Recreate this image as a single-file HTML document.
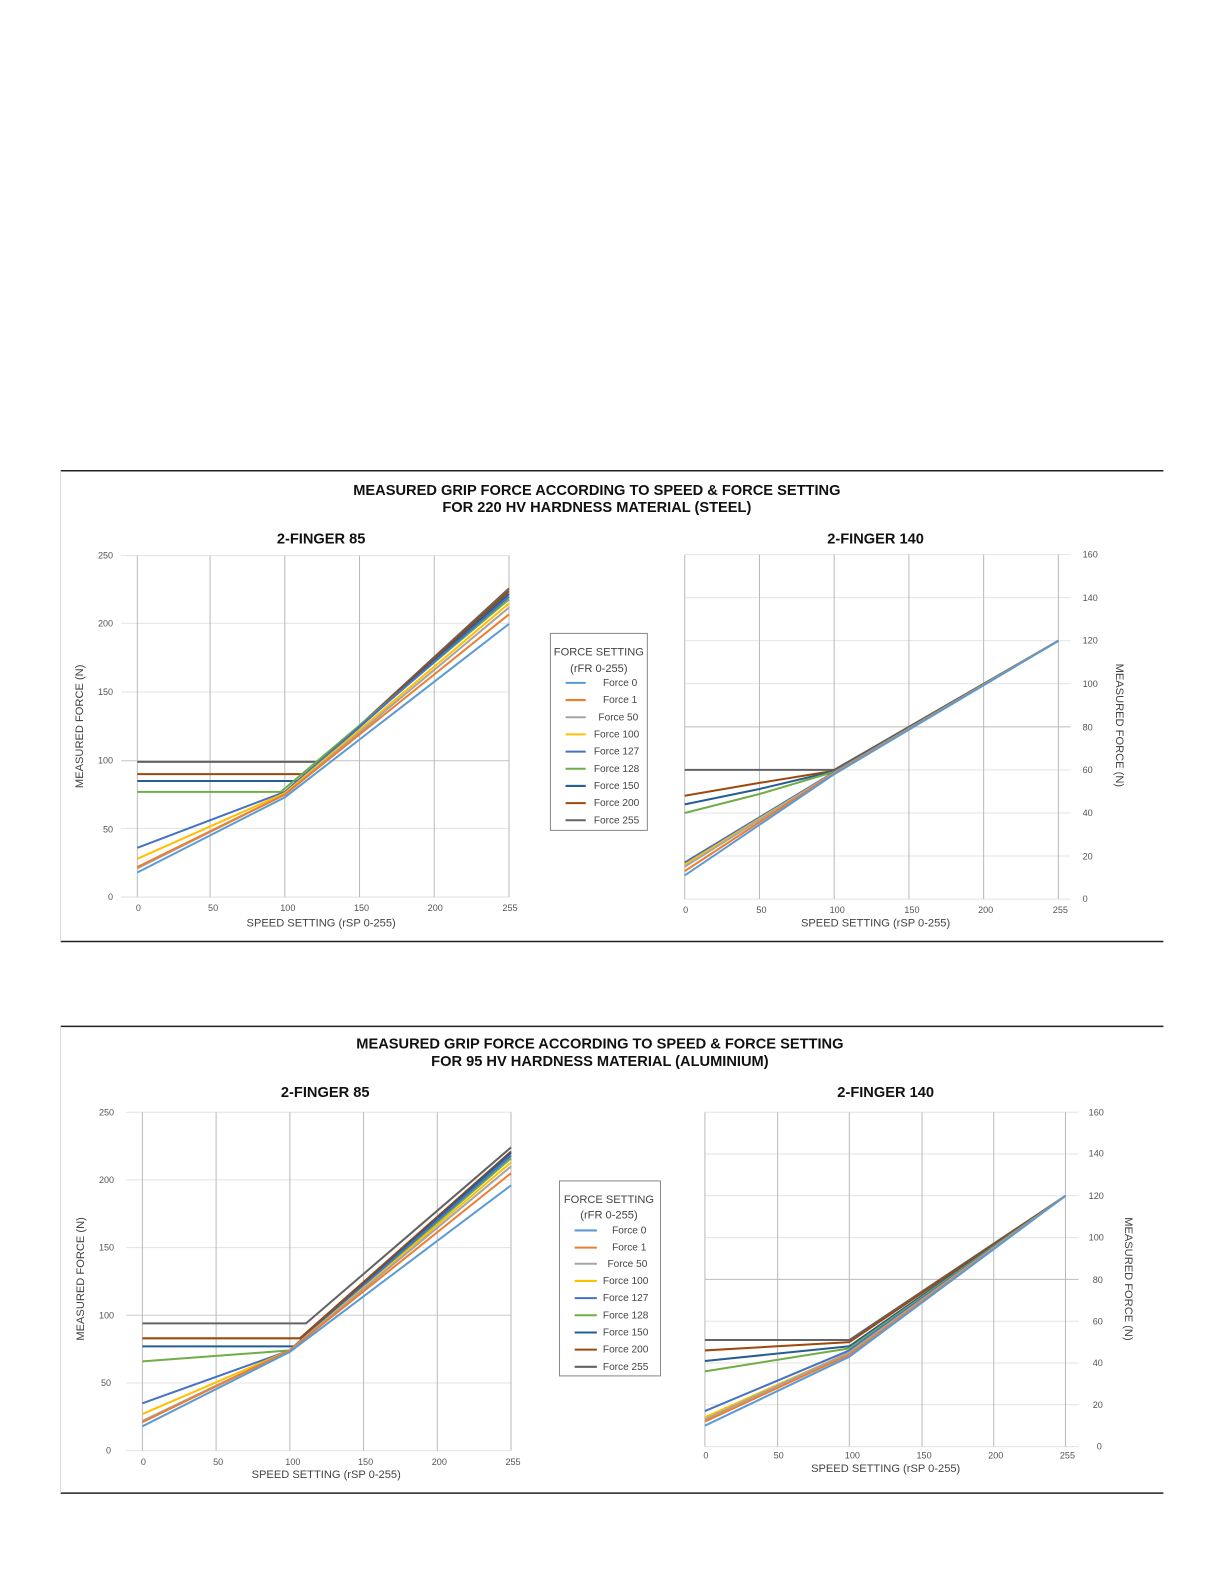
<!DOCTYPE html>
<html><head><meta charset="utf-8"><style>
html,body{margin:0;padding:0;background:#fff}
svg{display:block}
text{font-family:"Liberation Sans",sans-serif;fill:#333}
.t{font-weight:bold;font-size:14.5px;fill:#111}
.tk{font-size:9px;fill:#555}
.ax{font-size:11px;fill:#444}
.lg{font-size:10px;fill:#444}
.v{stroke:#b9b9b9;stroke-width:1}
.h{stroke:#e3e3e3;stroke-width:1}
polyline{fill:none;stroke-width:2}
</style></head><body>
<svg width="1224" height="1584" viewBox="0 0 1212 1568" preserveAspectRatio="none" xmlns="http://www.w3.org/2000/svg">
<!-- frames -->
<line x1="60" y1="466" x2="1152" y2="466" stroke="#222" stroke-width="1.5"/>
<line x1="60" y1="932" x2="1152" y2="932" stroke="#222" stroke-width="1.5"/>
<line x1="60" y1="466" x2="60" y2="932" stroke="#ddd"/>
<line x1="60" y1="1016" x2="1152" y2="1016" stroke="#222" stroke-width="1.5"/>
<line x1="60" y1="1478" x2="1152" y2="1478" stroke="#222" stroke-width="1.5"/>
<line x1="60" y1="1016" x2="60" y2="1478" stroke="#ddd"/>

<!-- ===== TOP ===== -->
<text class="t" x="591" y="490" text-anchor="middle">MEASURED GRIP FORCE ACCORDING TO SPEED &amp; FORCE SETTING</text>
<text class="t" x="591" y="507" text-anchor="middle">FOR 220 HV HARDNESS MATERIAL (STEEL)</text>
<text class="t" x="318" y="538" text-anchor="middle">2-FINGER 85</text>
<text class="t" x="867" y="538" text-anchor="middle">2-FINGER 140</text>

<!-- Chart A -->
<g>
<line class="h" x1="120" y1="888" x2="504" y2="888"/><line class="h" x1="120" y1="820" x2="504" y2="820"/>
<line class="h" x1="120" y1="753" x2="504" y2="753" style="stroke:#ccc"/><line class="h" x1="120" y1="685" x2="504" y2="685"/>
<line class="h" x1="120" y1="617" x2="504" y2="617"/><line class="h" x1="120" y1="550" x2="504" y2="550"/>
<line class="v" x1="136" y1="550" x2="136" y2="888"/><line class="v" x1="208" y1="550" x2="208" y2="888"/>
<line class="v" x1="282" y1="550" x2="282" y2="888"/><line class="v" x1="356" y1="550" x2="356" y2="888"/>
<line class="v" x1="430" y1="550" x2="430" y2="888"/><line class="v" x1="504" y1="550" x2="504" y2="888"/>
<text class="tk" x="112" y="891" text-anchor="end">0</text><text class="tk" x="112" y="824" text-anchor="end">50</text>
<text class="tk" x="112" y="756" text-anchor="end">100</text><text class="tk" x="112" y="688" text-anchor="end">150</text>
<text class="tk" x="112" y="620" text-anchor="end">200</text><text class="tk" x="112" y="553" text-anchor="end">250</text>
<text class="tk" x="137" y="902" text-anchor="middle">0</text><text class="tk" x="211" y="902" text-anchor="middle">50</text>
<text class="tk" x="285" y="902" text-anchor="middle">100</text><text class="tk" x="358" y="902" text-anchor="middle">150</text>
<text class="tk" x="431" y="902" text-anchor="middle">200</text><text class="tk" x="505" y="902" text-anchor="middle">255</text>
<text class="ax" x="318" y="917" text-anchor="middle">SPEED SETTING (rSP 0-255)</text>
<text class="ax" transform="translate(82,719) rotate(-90)" text-anchor="middle">MEASURED FORCE (N)</text>
<polyline stroke="#636363" points="136,754.2 317,754.2 504,582.4"/>
<polyline stroke="#9e480e" points="136,766.3 303,766.3 504,585.2"/>
<polyline stroke="#255e91" points="136,773.1 296,773.1 504,587.9"/>
<polyline stroke="#70ad47" points="136,783.9 278,783.9 504,593.3"/>
<polyline stroke="#4472c4" points="136,839.3 282,783.9 504,590.6"/>
<polyline stroke="#ffc000" points="136,850.1 282,785.2 504,597.3"/>
<polyline stroke="#a5a5a5" points="136,859.6 282,786.6 504,601.4"/>
<polyline stroke="#ed7d31" points="136,858.3 282,786.6 504,608.1"/>
<polyline stroke="#5b9bd5" points="136,863.7 282,789.3 504,617.6"/>
</g>

<!-- Legend top -->
<g>
<rect x="545" y="627" width="96" height="195" fill="#fff" stroke="#888"/>
<text class="ax" x="593" y="649" text-anchor="middle">FORCE SETTING</text>
<text class="ax" x="593" y="665" text-anchor="middle">(rFR 0-255)</text>
<line x1="560" y1="676" x2="580" y2="676" stroke="#5b9bd5" stroke-width="2"/><text class="lg" x="631" y="679" text-anchor="end">Force 0</text>
<line x1="560" y1="693" x2="580" y2="693" stroke="#ed7d31" stroke-width="2"/><text class="lg" x="631" y="696" text-anchor="end">Force 1</text>
<line x1="560" y1="710" x2="580" y2="710" stroke="#a5a5a5" stroke-width="2"/><text class="lg" x="632" y="713" text-anchor="end">Force 50</text>
<line x1="560" y1="727" x2="580" y2="727" stroke="#ffc000" stroke-width="2"/><text class="lg" x="633" y="730" text-anchor="end">Force 100</text>
<line x1="560" y1="744" x2="580" y2="744" stroke="#4472c4" stroke-width="2"/><text class="lg" x="633" y="747" text-anchor="end">Force 127</text>
<line x1="560" y1="761" x2="580" y2="761" stroke="#70ad47" stroke-width="2"/><text class="lg" x="633" y="764" text-anchor="end">Force 128</text>
<line x1="560" y1="778" x2="580" y2="778" stroke="#255e91" stroke-width="2"/><text class="lg" x="633" y="781" text-anchor="end">Force 150</text>
<line x1="560" y1="795" x2="580" y2="795" stroke="#9e480e" stroke-width="2"/><text class="lg" x="633" y="798" text-anchor="end">Force 200</text>
<line x1="560" y1="812" x2="580" y2="812" stroke="#636363" stroke-width="2"/><text class="lg" x="633" y="815" text-anchor="end">Force 255</text>
</g>

<!-- Chart B -->
<g>
<line class="h" x1="678" y1="890" x2="1060" y2="890"/><line class="h" x1="678" y1="847.4" x2="1060" y2="847.4"/>
<line class="h" x1="678" y1="804.8" x2="1060" y2="804.8"/><line class="h" x1="678" y1="762.1" x2="1060" y2="762.1"/>
<line class="h" x1="678" y1="719.5" x2="1060" y2="719.5" style="stroke:#bbb"/><line class="h" x1="678" y1="676.9" x2="1060" y2="676.9"/>
<line class="h" x1="678" y1="634.3" x2="1060" y2="634.3"/><line class="h" x1="678" y1="591.6" x2="1060" y2="591.6"/>
<line class="h" x1="678" y1="549" x2="1060" y2="549"/>
<line class="v" x1="678" y1="549" x2="678" y2="890"/><line class="v" x1="752" y1="549" x2="752" y2="890"/>
<line class="v" x1="826" y1="549" x2="826" y2="890"/><line class="v" x1="900" y1="549" x2="900" y2="890"/>
<line class="v" x1="974" y1="549" x2="974" y2="890"/><line class="v" x1="1048" y1="549" x2="1048" y2="890"/>
<text class="tk" x="1072" y="893">0</text><text class="tk" x="1072" y="851">20</text>
<text class="tk" x="1072" y="808">40</text><text class="tk" x="1072" y="765">60</text>
<text class="tk" x="1072" y="723">80</text><text class="tk" x="1072" y="680">100</text>
<text class="tk" x="1072" y="637">120</text><text class="tk" x="1072" y="595">140</text>
<text class="tk" x="1072" y="552">160</text>
<text class="tk" x="679" y="904" text-anchor="middle">0</text><text class="tk" x="754" y="904" text-anchor="middle">50</text>
<text class="tk" x="829" y="904" text-anchor="middle">100</text><text class="tk" x="903" y="904" text-anchor="middle">150</text>
<text class="tk" x="976" y="904" text-anchor="middle">200</text><text class="tk" x="1050" y="904" text-anchor="middle">255</text>
<text class="ax" x="867" y="917" text-anchor="middle">SPEED SETTING (rSP 0-255)</text>
<text class="ax" transform="translate(1105,718) rotate(90)" text-anchor="middle">MEASURED FORCE (N)</text>
<polyline stroke="#636363" points="678,762.1 826,762.1 1048,634.3"/>
<polyline stroke="#9e480e" points="678,787.7 752,775 826,763 1048,634.3"/>
<polyline stroke="#255e91" points="678,796.2 752,781 826,763.5 1048,634.3"/>
<polyline stroke="#70ad47" points="678,804.8 752,786 826,764 1048,634.3"/>
<polyline stroke="#4472c4" points="678,853.8 826,764.3 1048,634.3"/>
<polyline stroke="#ffc000" points="678,855.9 826,765 1048,634.3"/>
<polyline stroke="#a5a5a5" points="678,858 826,765 1048,634.3"/>
<polyline stroke="#ed7d31" points="678,862.3 826,765.5 1048,634.3"/>
<polyline stroke="#5b9bd5" points="678,866.6 826,766.4 1048,634.3"/>
</g>

<!-- ===== BOTTOM ===== -->
<text class="t" x="594" y="1038" text-anchor="middle">MEASURED GRIP FORCE ACCORDING TO SPEED &amp; FORCE SETTING</text>
<text class="t" x="594" y="1055" text-anchor="middle">FOR 95 HV HARDNESS MATERIAL (ALUMINIUM)</text>
<text class="t" x="322" y="1086" text-anchor="middle">2-FINGER 85</text>
<text class="t" x="877" y="1086" text-anchor="middle">2-FINGER 140</text>

<!-- Chart C -->
<g>
<line class="h" x1="125" y1="1436" x2="506" y2="1436"/><line class="h" x1="125" y1="1369" x2="506" y2="1369"/>
<line class="h" x1="125" y1="1302" x2="506" y2="1302" style="stroke:#ccc"/><line class="h" x1="125" y1="1235" x2="506" y2="1235"/>
<line class="h" x1="125" y1="1168" x2="506" y2="1168"/><line class="h" x1="125" y1="1101" x2="506" y2="1101"/>
<line class="v" x1="141" y1="1101" x2="141" y2="1436"/><line class="v" x1="214" y1="1101" x2="214" y2="1436"/>
<line class="v" x1="287" y1="1101" x2="287" y2="1436"/><line class="v" x1="360" y1="1101" x2="360" y2="1436"/>
<line class="v" x1="433" y1="1101" x2="433" y2="1436"/><line class="v" x1="506" y1="1101" x2="506" y2="1436"/>
<text class="tk" x="110" y="1439" text-anchor="end">0</text><text class="tk" x="110" y="1372" text-anchor="end">50</text>
<text class="tk" x="113" y="1305" text-anchor="end">100</text><text class="tk" x="113" y="1238" text-anchor="end">150</text>
<text class="tk" x="113" y="1171" text-anchor="end">200</text><text class="tk" x="113" y="1104" text-anchor="end">250</text>
<text class="tk" x="142" y="1450" text-anchor="middle">0</text><text class="tk" x="216" y="1450" text-anchor="middle">50</text>
<text class="tk" x="290" y="1450" text-anchor="middle">100</text><text class="tk" x="362" y="1450" text-anchor="middle">150</text>
<text class="tk" x="435" y="1450" text-anchor="middle">200</text><text class="tk" x="508" y="1450" text-anchor="middle">255</text>
<text class="ax" x="323" y="1463" text-anchor="middle">SPEED SETTING (rSP 0-255)</text>
<text class="ax" transform="translate(83,1266) rotate(-90)" text-anchor="middle">MEASURED FORCE (N)</text>
<polyline stroke="#636363" points="141,1310 303,1310 506,1135.8"/>
<polyline stroke="#9e480e" points="141,1324.8 297,1324.8 506,1139.9"/>
<polyline stroke="#255e91" points="141,1332.8 291,1332.8 506,1141.2"/>
<polyline stroke="#70ad47" points="141,1347.6 287,1336.8 506,1146.6"/>
<polyline stroke="#4472c4" points="141,1389.1 287,1336.8 506,1143.9"/>
<polyline stroke="#ffc000" points="141,1399.8 287,1336.8 506,1150.6"/>
<polyline stroke="#a5a5a5" points="141,1406.5 287,1336.8 506,1154.6"/>
<polyline stroke="#ed7d31" points="141,1407.9 287,1336.8 506,1161.3"/>
<polyline stroke="#5b9bd5" points="141,1411.9 287,1338.2 506,1173.4"/>
</g>

<!-- Legend bottom -->
<g>
<rect x="554" y="1169" width="100" height="193" fill="#fff" stroke="#888"/>
<text class="ax" x="603" y="1191" text-anchor="middle">FORCE SETTING</text>
<text class="ax" x="603" y="1206" text-anchor="middle">(rFR 0-255)</text>
<line x1="569" y1="1218" x2="591" y2="1218" stroke="#5b9bd5" stroke-width="2"/><text class="lg" x="640" y="1221" text-anchor="end">Force 0</text>
<line x1="569" y1="1235" x2="591" y2="1235" stroke="#ed7d31" stroke-width="2"/><text class="lg" x="640" y="1238" text-anchor="end">Force 1</text>
<line x1="569" y1="1251" x2="591" y2="1251" stroke="#a5a5a5" stroke-width="2"/><text class="lg" x="641" y="1254" text-anchor="end">Force 50</text>
<line x1="569" y1="1268" x2="591" y2="1268" stroke="#ffc000" stroke-width="2"/><text class="lg" x="642" y="1271" text-anchor="end">Force 100</text>
<line x1="569" y1="1285" x2="591" y2="1285" stroke="#4472c4" stroke-width="2"/><text class="lg" x="642" y="1288" text-anchor="end">Force 127</text>
<line x1="569" y1="1302" x2="591" y2="1302" stroke="#70ad47" stroke-width="2"/><text class="lg" x="642" y="1305" text-anchor="end">Force 128</text>
<line x1="569" y1="1319" x2="591" y2="1319" stroke="#255e91" stroke-width="2"/><text class="lg" x="642" y="1322" text-anchor="end">Force 150</text>
<line x1="569" y1="1336" x2="591" y2="1336" stroke="#9e480e" stroke-width="2"/><text class="lg" x="642" y="1339" text-anchor="end">Force 200</text>
<line x1="569" y1="1353" x2="591" y2="1353" stroke="#636363" stroke-width="2"/><text class="lg" x="642" y="1356" text-anchor="end">Force 255</text>
</g>

<!-- Chart D -->
<g>
<line class="h" x1="698" y1="1432" x2="1068" y2="1432"/><line class="h" x1="698" y1="1390.6" x2="1068" y2="1390.6"/>
<line class="h" x1="698" y1="1349.2" x2="1068" y2="1349.2"/><line class="h" x1="698" y1="1307.9" x2="1068" y2="1307.9"/>
<line class="h" x1="698" y1="1266.5" x2="1068" y2="1266.5" style="stroke:#bbb"/><line class="h" x1="698" y1="1225.1" x2="1068" y2="1225.1"/>
<line class="h" x1="698" y1="1183.7" x2="1068" y2="1183.7"/><line class="h" x1="698" y1="1142.3" x2="1068" y2="1142.3"/>
<line class="h" x1="698" y1="1101" x2="1068" y2="1101"/>
<line class="v" x1="698" y1="1101" x2="698" y2="1432"/><line class="v" x1="770" y1="1101" x2="770" y2="1432"/>
<line class="v" x1="841" y1="1101" x2="841" y2="1432"/><line class="v" x1="913" y1="1101" x2="913" y2="1432"/>
<line class="v" x1="984" y1="1101" x2="984" y2="1432"/><line class="v" x1="1055" y1="1101" x2="1055" y2="1432"/>
<text class="tk" x="1086" y="1435">0</text><text class="tk" x="1082" y="1394">20</text>
<text class="tk" x="1082" y="1352">40</text><text class="tk" x="1082" y="1311">60</text>
<text class="tk" x="1082" y="1270">80</text><text class="tk" x="1078" y="1228">100</text>
<text class="tk" x="1078" y="1187">120</text><text class="tk" x="1078" y="1145">140</text>
<text class="tk" x="1078" y="1104">160</text>
<text class="tk" x="699" y="1444" text-anchor="middle">0</text><text class="tk" x="771" y="1444" text-anchor="middle">50</text>
<text class="tk" x="844" y="1444" text-anchor="middle">100</text><text class="tk" x="915" y="1444" text-anchor="middle">150</text>
<text class="tk" x="986" y="1444" text-anchor="middle">200</text><text class="tk" x="1057" y="1444" text-anchor="middle">255</text>
<text class="ax" x="877" y="1457" text-anchor="middle">SPEED SETTING (rSP 0-255)</text>
<text class="ax" transform="translate(1114,1266) rotate(90)" text-anchor="middle">MEASURED FORCE (N)</text>
<polyline stroke="#636363" points="698,1326.5 841,1326.5 1055,1183.7"/>
<polyline stroke="#9e480e" points="698,1336.8 841,1328.6 1055,1183.7"/>
<polyline stroke="#255e91" points="698,1347.2 841,1332.7 1055,1183.7"/>
<polyline stroke="#70ad47" points="698,1357.5 841,1334.8 1055,1183.7"/>
<polyline stroke="#4472c4" points="698,1396.8 841,1336.8 1055,1183.7"/>
<polyline stroke="#ffc000" points="698,1403 841,1338.9 1055,1183.7"/>
<polyline stroke="#a5a5a5" points="698,1405.1 841,1338.9 1055,1183.7"/>
<polyline stroke="#ed7d31" points="698,1407.2 841,1341 1055,1183.7"/>
<polyline stroke="#5b9bd5" points="698,1411.3 841,1343 1055,1183.7"/>
</g>
</svg>
</body></html>
